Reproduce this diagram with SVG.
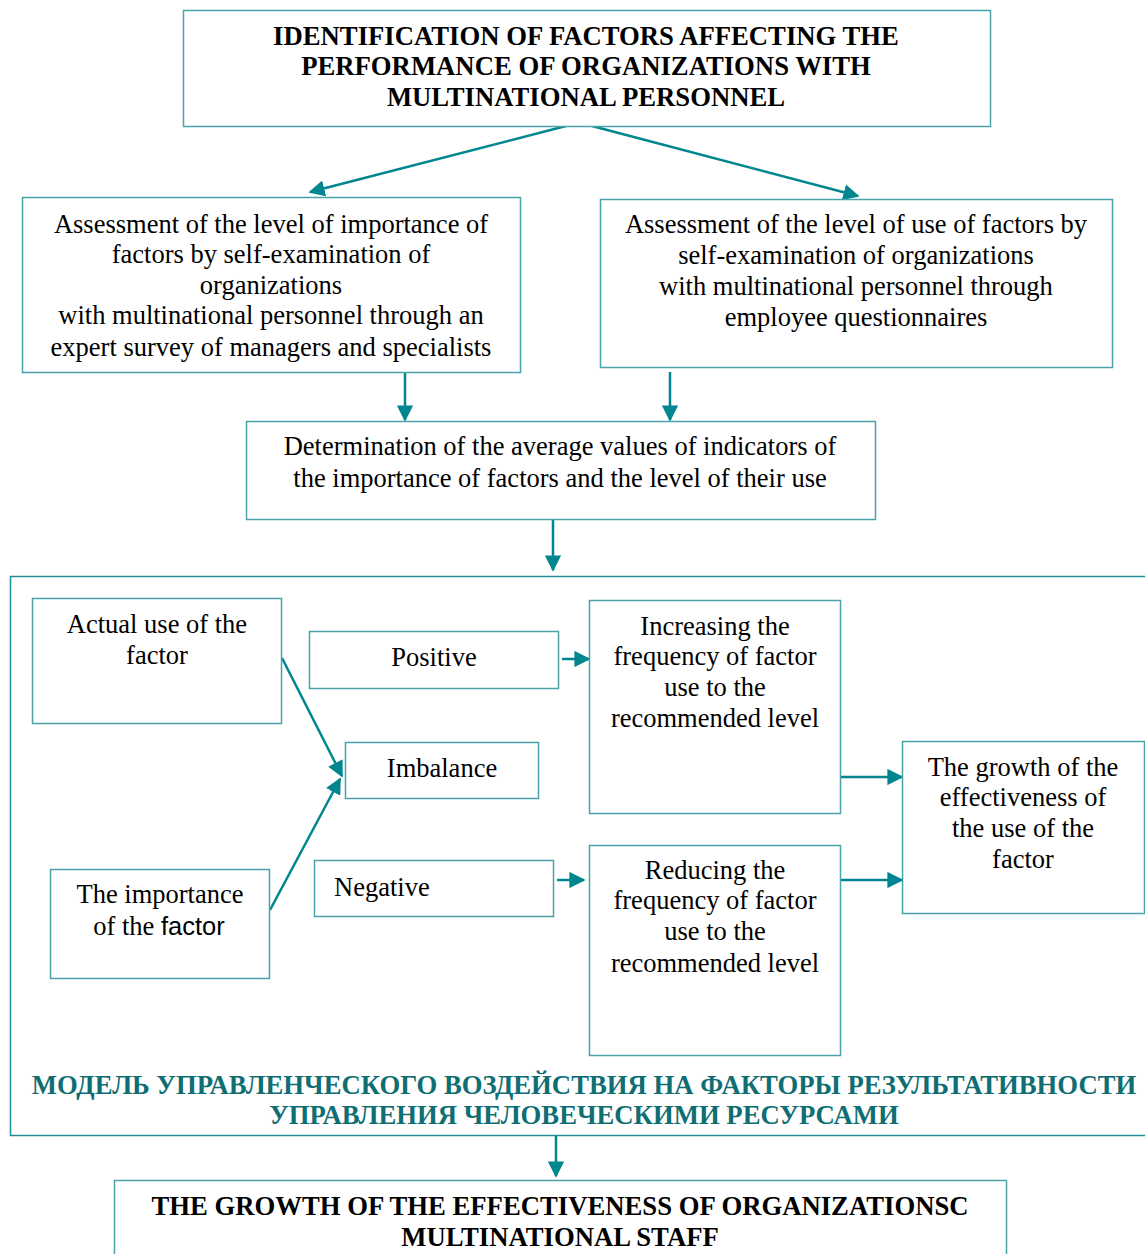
<svg xmlns="http://www.w3.org/2000/svg" width="1145" height="1254" viewBox="0 0 1145 1254">
  <style>
    .box { fill: #ffffff; stroke: #4aa3ab; stroke-width: 1.5; }
    .frame { fill: none; stroke: #1f8f96; stroke-width: 1.5; }
    .arrow { stroke: #00868f; stroke-width: 2.5; fill: none; marker-end: url(#head); }
    .t { font-family: "Liberation Serif", "Times New Roman", serif; font-size: 26.5px; fill: #000000; text-anchor: middle; }
    .b { font-family: "Liberation Serif", "Times New Roman", serif; font-size: 26.7px; font-weight: bold; fill: #000000; text-anchor: middle; }
    .ru { font-family: "Liberation Serif", "Times New Roman", serif; font-size: 26.7px; font-weight: bold; fill: #0e6e73; text-anchor: middle; }
    .sans { font-family: "Liberation Sans", Arial, sans-serif; font-size: 25.5px; }
  </style>
  <defs>
    <marker id="head" viewBox="0 0 10 10" refX="9" refY="5" markerWidth="6.5" markerHeight="6.5" orient="auto" markerUnits="strokeWidth">
      <path d="M0,0 L10,5 L0,10 z" fill="#00868f"/>
    </marker>
  </defs>
  <rect width="1145" height="1254" fill="#ffffff"/>

  <!-- outer frame of the management model -->
  <g id="model-frame">
    <rect class="frame" x="10.5" y="576.5" width="1145" height="559"/>
    <text class="ru" x="584" y="1094">МОДЕЛЬ УПРАВЛЕНЧЕСКОГО ВОЗДЕЙСТВИЯ НА ФАКТОРЫ РЕЗУЛЬТАТИВНОСТИ</text>
    <text class="ru" x="584" y="1124">УПРАВЛЕНИЯ ЧЕЛОВЕЧЕСКИМИ РЕСУРСАМИ</text>
  </g>

  <g id="connectors">
    <line class="arrow" x1="566" y1="126" x2="310" y2="192"/>
    <line class="arrow" x1="592" y1="126" x2="858" y2="196"/>
    <line class="arrow" x1="405" y1="372" x2="405" y2="420"/>
    <line class="arrow" x1="670" y1="372" x2="670" y2="420"/>
    <line class="arrow" x1="553" y1="520" x2="553" y2="570"/>
    <line class="arrow" x1="282" y1="658" x2="342" y2="776"/>
    <line class="arrow" x1="270" y1="910" x2="340" y2="779"/>
    <line class="arrow" x1="562" y1="659" x2="589" y2="659"/>
    <line class="arrow" x1="557" y1="880" x2="584" y2="880"/>
    <line class="arrow" x1="838" y1="777" x2="902" y2="777"/>
    <line class="arrow" x1="838" y1="880" x2="902" y2="880"/>
    <line class="arrow" x1="556" y1="1136" x2="556" y2="1176"/>
  </g>

  <g id="identification">
    <rect class="box" x="183.5" y="10.5" width="807" height="116"/>
    <text class="b" x="586" y="45">IDENTIFICATION OF FACTORS AFFECTING THE</text>
    <text class="b" x="586" y="75">PERFORMANCE OF ORGANIZATIONS WITH</text>
    <text class="b" x="586" y="106">MULTINATIONAL PERSONNEL</text>
  </g>

  <g id="importance-assessment">
    <rect class="box" x="22.5" y="197.5" width="498" height="175"/>
    <text class="t" x="271" y="233">Assessment of the level of importance of</text>
    <text class="t" x="271" y="263">factors by self-examination of</text>
    <text class="t" x="271" y="294">organizations</text>
    <text class="t" x="271" y="324">with multinational personnel through an</text>
    <text class="t" x="271" y="356">expert survey of managers and specialists</text>
  </g>

  <g id="use-assessment">
    <rect class="box" x="600.5" y="199.5" width="512" height="168"/>
    <text class="t" x="856" y="233">Assessment of the level of use of factors by</text>
    <text class="t" x="856" y="264">self-examination of organizations</text>
    <text class="t" x="856" y="295">with multinational personnel through</text>
    <text class="t" x="856" y="326">employee questionnaires</text>
  </g>

  <g id="average-values">
    <rect class="box" x="246.5" y="421.5" width="629" height="98"/>
    <text class="t" x="560" y="455">Determination of the average values of indicators of</text>
    <text class="t" x="560" y="487">the importance of factors and the level of their use</text>
  </g>

  <g id="actual-use">
    <rect class="box" x="32.5" y="598.5" width="249" height="125"/>
    <text class="t" x="157" y="633">Actual use of the</text>
    <text class="t" x="157" y="664">factor</text>
  </g>

  <g id="importance">
    <rect class="box" x="50.5" y="869.5" width="219" height="109"/>
    <text class="t" x="160" y="903">The importance</text>
    <text class="t" x="159" y="935">of the <tspan class="sans">factor</tspan></text>
  </g>

  <g id="positive">
    <rect class="box" x="309.5" y="631.5" width="249" height="57"/>
    <text class="t" x="434" y="666">Positive</text>
  </g>

  <g id="imbalance">
    <rect class="box" x="345.5" y="742.5" width="193" height="56"/>
    <text class="t" x="442" y="777">Imbalance</text>
  </g>

  <g id="negative">
    <rect class="box" x="314.5" y="860.5" width="239" height="56"/>
    <text class="t" x="334" y="896" style="text-anchor:start">Negative</text>
  </g>

  <g id="increasing">
    <rect class="box" x="589.5" y="600.5" width="251" height="213"/>
    <text class="t" x="715" y="635">Increasing the</text>
    <text class="t" x="715" y="665">frequency of factor</text>
    <text class="t" x="715" y="696">use to the</text>
    <text class="t" x="715" y="727">recommended level</text>
  </g>

  <g id="reducing">
    <rect class="box" x="589.5" y="845.5" width="251" height="210"/>
    <text class="t" x="715" y="879">Reducing the</text>
    <text class="t" x="715" y="909">frequency of factor</text>
    <text class="t" x="715" y="940">use to the</text>
    <text class="t" x="715" y="972">recommended level</text>
  </g>

  <g id="factor-growth">
    <rect class="box" x="902.5" y="741.5" width="242" height="172"/>
    <text class="t" x="1023" y="776">The growth of the</text>
    <text class="t" x="1023" y="806">effectiveness of</text>
    <text class="t" x="1023" y="837">the use of the</text>
    <text class="t" x="1023" y="868">factor</text>
  </g>

  <g id="organization-growth">
    <rect class="box" x="114.5" y="1180.5" width="892" height="90"/>
    <text class="b" x="560" y="1215">THE GROWTH OF THE EFFECTIVENESS OF ORGANIZATIONSC</text>
    <text class="b" x="560" y="1246">MULTINATIONAL STAFF</text>
  </g>
</svg>
